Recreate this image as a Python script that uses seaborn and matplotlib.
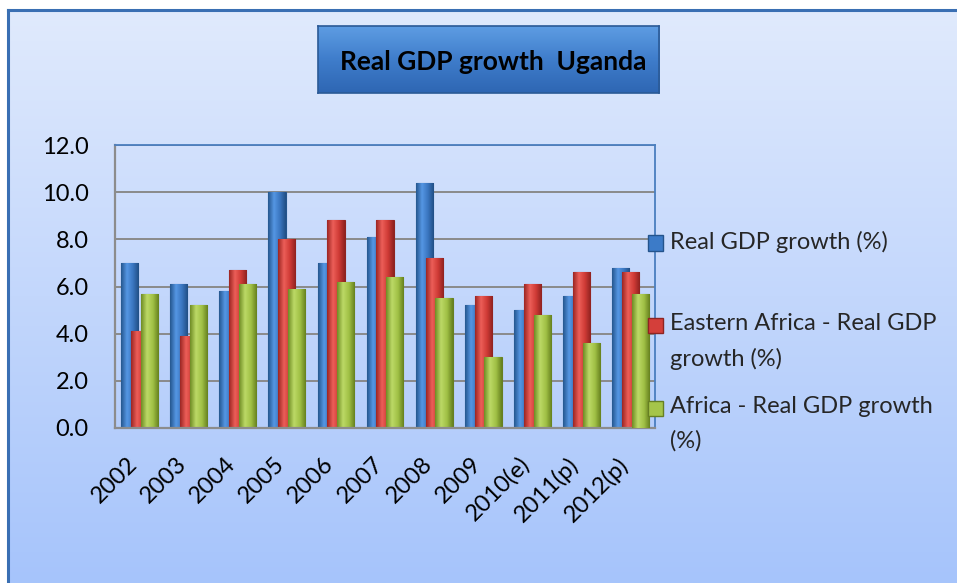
import numpy as np
import pandas as pd
import matplotlib
matplotlib.use("Agg")
import matplotlib.pyplot as plt
import seaborn as sns
from matplotlib.colors import LinearSegmentedColormap
from matplotlib.patches import Patch
import matplotlib.transforms as mtransforms

# ---------------- data ----------------
years = ["2002", "2003", "2004", "2005", "2006", "2007", "2008", "2009",
         "2010(e)", "2011(p)", "2012(p)"]
uganda = [7.0, 6.1, 5.8, 10.0, 7.0, 8.1, 10.4, 5.2, 5.0, 5.6, 6.8]
eastern_africa = [4.1, 3.9, 6.7, 8.0, 8.8, 8.8, 7.2, 5.6, 6.1, 6.6, 6.6]
africa = [5.7, 5.2, 6.1, 5.9, 6.2, 6.4, 5.5, 3.0, 4.8, 3.6, 5.7]
series_names = ["Real GDP growth (%)",
                "Eastern Africa - Real GDP growth (%)",
                "Africa - Real GDP growth (%)"]
legend_labels = ["Real GDP growth (%)\n",
                 "Eastern Africa - Real GDP\ngrowth (%)",
                 "Africa - Real GDP growth\n(%)"]
y_ticks = [0, 2, 4, 6, 8, 10, 12]
title = "Real GDP growth  Uganda"

colors = ["#3c7bc8", "#d43f3a", "#a5c54a"]
shades = [["#25578f", "#5596e3", "#3a76c0", "#214f85"],
          ["#9c2623", "#ec5e58", "#cf3b36", "#8f2220"],
          ["#6f8c25", "#bcd966", "#a1c146", "#66811f"]]
edges = ["#24548c", "#8e2421", "#667f22"]

df = pd.DataFrame({
    "year": years * 3,
    "value": uganda + eastern_africa + africa,
    "series": [series_names[0]] * len(years) + [series_names[1]] * len(years)
              + [series_names[2]] * len(years),
})

# ---------------- style ----------------
sns.set_theme(style="white")
plt.rcParams["font.family"] = ["Lato", "DejaVu Sans"]
FS = 17

W, H = 957, 583
fig = plt.figure(figsize=(W / 100, H / 100), dpi=100)
fig.patch.set_facecolor("white")

# chart-area background with gradient
bg = fig.add_axes([8 / W, 0, (W - 8) / W, (H - 10) / H], zorder=-10)
grad = np.linspace(0, 1, 256).reshape(-1, 1)
bg.imshow(grad, aspect="auto", extent=[0, 1, 0, 1], origin="upper",
          cmap=LinearSegmentedColormap.from_list("bg", ["#e0eafd", "#a6c4fb"]))
bg.set_xticks([]); bg.set_yticks([])
for s in ["right", "bottom"]:
    bg.spines[s].set_visible(False)
for s in ["left", "top"]:
    bg.spines[s].set_color("#3a6fb3")
    bg.spines[s].set_linewidth(2.2)

# plot area
L, R, T, B = 115, 655, 145, 428
ax = fig.add_axes([L / W, (H - B) / H, (R - L) / W, (B - T) / H])
ax.patch.set_alpha(0)

sns.barplot(data=df, x="year", y="value", hue="series", hue_order=series_names,
            palette=colors, saturation=1, width=0.6, ax=ax, legend=False,
            edgecolor="#333333", linewidth=0.6)

# widen overlapping bars & add cylinder shading
for si, cont in enumerate(ax.containers):
    cmap = LinearSegmentedColormap.from_list("c%d" % si, shades[si])
    for j, p in enumerate(cont.patches):
        cx = p.get_x() + p.get_width() / 2
        bw = 0.35
        p.set_x(cx - bw / 2)
        p.set_width(bw)
        p.set_edgecolor(edges[si])
        p.set_linewidth(0.8)
        z = 2 + si * 0.2 + j * 0.01
        p.set_zorder(z)
        img = ax.imshow(np.linspace(0, 1, 64).reshape(1, -1), aspect="auto",
                        cmap=cmap,
                        extent=[p.get_x(), p.get_x() + bw, 0, p.get_height()],
                        zorder=z + 0.001)
        img.set_clip_path(p)

handles = [Patch(facecolor=colors[i], edgecolor=edges[i]) for i in range(3)]

ax.set_xlim(-0.5, len(years) - 0.5)
ax.set_ylim(0, 12)
ax.set_aspect("auto")
ax.set_yticks(y_ticks)
ax.set_yticklabels([f"{v:.1f}" for v in y_ticks], fontsize=FS, color="black")
ax.set_xlabel("")
ax.set_ylabel("")
ax.grid(axis="y", color="#8a8a8a", linewidth=1.4)
ax.set_axisbelow(True)
ax.tick_params(axis="y", length=0, pad=19)
ax.tick_params(axis="x", length=0, pad=18)
plt.setp(ax.get_xticklabels(), rotation=45, ha="right", va="top", fontsize=FS,
         color="black")
off = mtransforms.ScaledTranslation(2 / 100, 0, fig.dpi_scale_trans)
for lab in ax.get_xticklabels():
    lab.set_transform(lab.get_transform() + off)
for s in ["left", "bottom"]:
    ax.spines[s].set_color("#8c8c8c")
    ax.spines[s].set_linewidth(1.6)
for s in ["top", "right"]:
    ax.spines[s].set_color("#4a7ebf")
    ax.spines[s].set_linewidth(1.3)

# legend
leg = fig.legend(handles, legend_labels, loc="upper left",
                 bbox_to_anchor=(648 / W, 1 - 231 / H), frameon=False,
                 fontsize=FS, handlelength=0.62, handleheight=0.62,
                 handletextpad=0.3, labelspacing=1.12, borderpad=0,
                 borderaxespad=0)
for t in leg.get_texts():
    t.set_linespacing(1.75)
for h in leg.legend_handles:
    h.set_y(h.get_y() + 11.5)

# title box
tx = fig.add_axes([318 / W, 1 - 93 / H, 341 / W, 67 / H])
tx.imshow(grad, aspect="auto", extent=[0, 1, 0, 1], origin="upper",
          cmap=LinearSegmentedColormap.from_list("tb", ["#5e9de3", "#3f7dcb", "#2e66b3"]))
tx.set_xticks([]); tx.set_yticks([])
for s in tx.spines.values():
    s.set_color("#2b5a96")
    s.set_linewidth(1.2)
tx.text(0.515, 0.47, title, ha="center", va="center", fontsize=19,
        fontweight="bold", color="black", transform=tx.transAxes)

fig.savefig("out.png", dpi=100)
